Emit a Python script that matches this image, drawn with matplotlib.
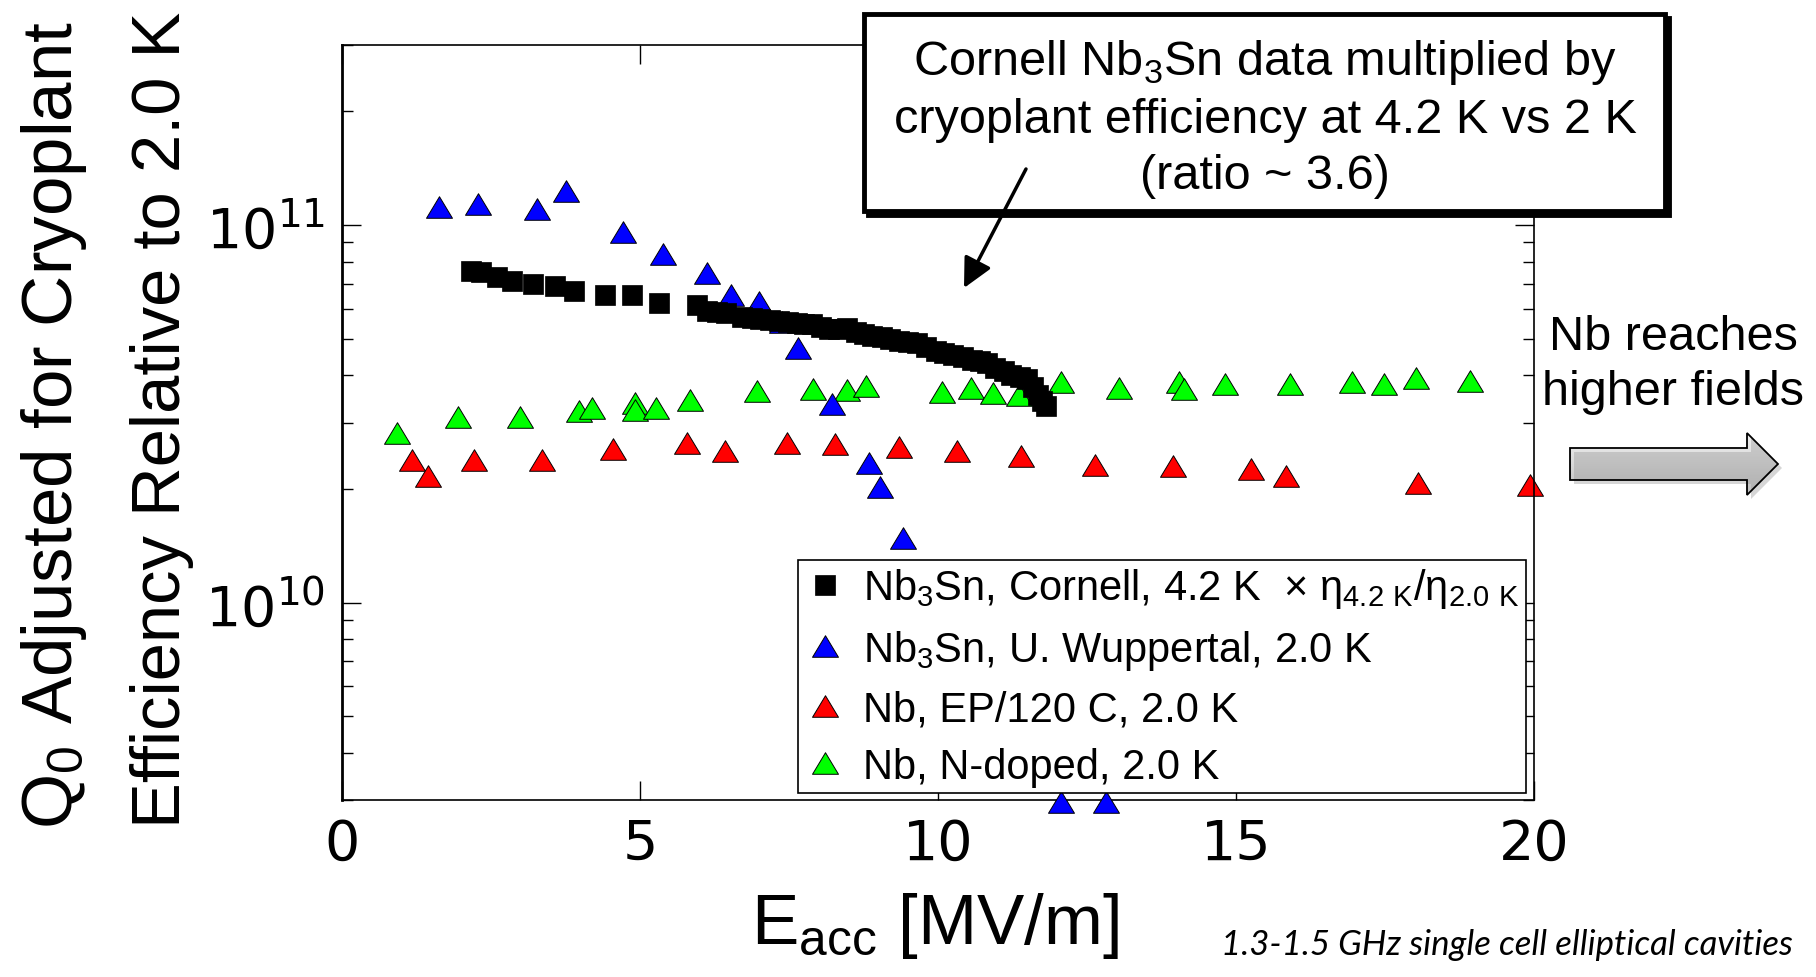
import numpy as np
import matplotlib.pyplot as plt
from matplotlib.path import Path
from matplotlib.patches import Rectangle, Polygon, FancyArrowPatch
from matplotlib.colors import LinearSegmentedColormap
import matplotlib.ticker as mticker

# --- data (E_acc in MV/m, Q0) ---
e_cornell = [2.16, 2.34, 2.60, 2.85, 3.21, 3.58, 3.90, 4.42, 4.86, 5.32, 5.95, 6.12,
             6.30, 6.45, 6.71, 6.88, 7.02, 7.18, 7.33, 7.48, 7.63, 7.76, 7.89, 8.03,
             8.17, 8.32, 8.47, 8.62, 8.75, 8.90, 9.06, 9.20, 9.34, 9.50, 9.65, 9.80,
             9.96, 10.10, 10.26, 10.42, 10.57, 10.70, 10.82, 10.96, 11.10, 11.23,
             11.38, 11.50, 11.60, 11.68, 11.75, 11.82]
q_cornell = [7.57, 7.52, 7.28, 7.13, 7.00, 6.88, 6.68, 6.51, 6.51, 6.22, 6.16, 5.94,
             5.90, 5.86, 5.72, 5.66, 5.63, 5.60, 5.58, 5.55, 5.52, 5.48, 5.46, 5.38,
             5.30, 5.32, 5.35, 5.22, 5.14, 5.09, 5.04, 4.98, 4.93, 4.90, 4.88, 4.75,
             4.63, 4.58, 4.54, 4.47, 4.40, 4.36, 4.32, 4.19, 4.10, 4.02,
             3.96, 3.90, 3.72, 3.55, 3.42, 3.31]

e_wupp = [1.63, 2.29, 3.27, 3.75, 4.71, 5.39, 6.13, 6.52, 6.99, 7.38, 7.65, 8.22,
          8.85, 9.02, 9.41, 12.06, 12.82]
q_wupp = [11.2, 11.4, 11.0, 12.3, 9.6, 8.4, 7.47, 6.51, 6.25, 5.53, 4.72, 3.36,
          2.34, 2.03, 1.48, 0.296, 0.296]

e_ep = [1.17, 1.45, 2.21, 3.36, 4.54, 5.79, 6.43, 7.46, 8.27, 9.35, 10.32, 11.40,
        12.63, 13.95, 15.25, 15.84, 18.05, 19.93]
q_ep = [2.39, 2.16, 2.39, 2.39, 2.55, 2.64, 2.52, 2.64, 2.63, 2.58, 2.52, 2.45,
        2.32, 2.30, 2.26, 2.16, 2.08, 2.05]

e_ndop = [0.93, 1.94, 2.99, 3.98, 4.20, 4.91, 4.91, 5.27, 5.84, 6.97, 7.90, 8.48,
          8.80, 10.06, 10.55, 10.93, 11.36, 12.07, 13.03, 14.05, 14.12, 14.81,
          15.91, 16.94, 17.48, 18.02, 18.93]
q_ndop = [2.81, 3.10, 3.10, 3.22, 3.27, 3.37, 3.24, 3.27, 3.44, 3.64, 3.67, 3.66,
          3.75, 3.62, 3.70, 3.60, 3.55, 3.85, 3.71, 3.85, 3.67, 3.80,
          3.80, 3.85, 3.80, 3.94, 3.87]

scale = 1e10

labels = ["Nb$_\\mathregular{3}$Sn, Cornell, 4.2 K  \u00d7 \u03b7$_\\mathregular{4.2\\ K}$/\u03b7$_\\mathregular{2.0\\ K}$",
          "Nb$_\\mathregular{3}$Sn, U. Wuppertal, 2.0 K",
          "Nb, EP/120 C, 2.0 K",
          "Nb, N-doped, 2.0 K"]

narrow = ['Liberation Sans Narrow', 'Liberation Sans', 'DejaVu Sans']
plt.rcParams['font.family'] = narrow

W, H = 1816, 978
fig = plt.figure(figsize=(W / 100, H / 100), dpi=100)
ax = fig.add_axes([342 / W, 1 - 801 / H, (1534 - 342) / W, (801 - 46) / H])

tri = Path([(0, 0.83), (-1, -0.83), (1, -0.83), (0, 0.83)],
           [Path.MOVETO, Path.LINETO, Path.LINETO, Path.CLOSEPOLY])

h_nd, = ax.plot(e_ndop, np.array(q_ndop) * scale, ls='none', marker=tri, ms=18.7,
                mfc='#00ff00', mec='k', mew=0.7, clip_on=False, zorder=2)
h_ep, = ax.plot(e_ep, np.array(q_ep) * scale, ls='none', marker=tri, ms=18.7,
                mfc='#ff0000', mec='k', mew=0.7, clip_on=False, zorder=2)
h_wu, = ax.plot(e_wupp, np.array(q_wupp) * scale, ls='none', marker=tri, ms=18.7,
                mfc='#0000ff', mec='k', mew=0.7, clip_on=False, zorder=3)
h_co, = ax.plot(e_cornell, np.array(q_cornell) * scale, ls='none', marker='s', ms=15,
                mfc='k', mec='k', mew=0.5, clip_on=False, zorder=4)

ax.set_yscale('log')
ax.set_xlim(0, 20)
ax.set_ylim(3e9, 3e11)
ax.xaxis.set_major_locator(mticker.MultipleLocator(5))
ax.yaxis.set_minor_formatter(mticker.NullFormatter())
ax.tick_params(which='both', direction='in', top=True, right=True,
               labelfontfamily='DejaVu Sans')
ax.tick_params(which='major', length=14, width=1)
ax.tick_params(which='minor', length=8, width=1)
ax.tick_params(axis='x', labelsize=40, pad=12)
ax.tick_params(axis='y', labelsize=40, pad=12)
for s in ax.spines.values():
    s.set_linewidth(1.2)
ax.spines['left'].set_linewidth(2)

leg = ax.legend([h_co, h_wu, h_ep, h_nd], labels, loc='lower right',
                bbox_to_anchor=(0.993, 0.009), borderaxespad=0, fancybox=False,
                edgecolor='k', framealpha=1, fontsize=30, handlelength=1.0,
                handletextpad=0.4, borderpad=0.15, labelspacing=0.42, numpoints=1)
leg.get_frame().set_linewidth(1.2)

# axis labels placed as figure text
fig.text(72 / W, 1 - 425 / H, "Q$_\\mathregular{0}$ Adjusted for Cryoplant", rotation=90,
         rotation_mode='anchor', ha='center', va='baseline', fontsize=51)
fig.text(180 / W, 1 - 420 / H, "Efficiency Relative to 2.0 K", rotation=90,
         rotation_mode='anchor', ha='center', va='baseline', fontsize=49.5)
fig.text(935 / W, 1 - 944 / H, "E$_\\mathregular{acc}$ [MV/m]", ha='center',
         va='baseline', fontsize=51)

# annotation box
fig.add_artist(Rectangle((868 / W, 1 - 216 / H), (1665 - 864) / W, (212 - 15) / H,
                         transform=fig.transFigure, facecolor='k', edgecolor='k', lw=3.5))
fig.add_artist(Rectangle((864 / W, 1 - 212 / H), (1665 - 864) / W, (212 - 15) / H,
                         transform=fig.transFigure, facecolor='white', edgecolor='k', lw=3.5))
box_lines = ["Cornell Nb$_\\mathregular{3}$Sn data multiplied by",
             "cryoplant efficiency at 4.2 K vs 2 K",
             "(ratio ~ 3.6)"]
for txt, yb in zip(box_lines, [75, 133, 189]):
    fig.text(1265 / W, 1 - yb / H, txt, ha='center', va='baseline', fontsize=35)
fig.add_artist(FancyArrowPatch((1026 / W, 1 - 170 / H), (964 / W, 1 - 289 / H),
                               transform=fig.transFigure, color='k', lw=2.5,
                               arrowstyle='-|>,head_length=0.9,head_width=0.45',
                               mutation_scale=20, shrinkA=0, shrinkB=0, zorder=3))

# right-hand note with block arrow
fig.text(1673 / W, 1 - 350 / H, "Nb reaches", ha='center', va='baseline',
         fontsize=35, family='Liberation Sans')
fig.text(1673 / W, 1 - 405 / H, "higher fields", ha='center', va='baseline',
         fontsize=35, family='Liberation Sans')

ax_arr = fig.add_axes([1560 / W, 1 - 505 / H, 230 / W, 80 / H])
ax_arr.axis('off')
verts = [(1570, 449), (1747, 449), (1747, 434), (1778, 465), (1747, 496),
         (1747, 481), (1570, 481)]
ax_arr.add_patch(Polygon([(x + 4, H - y - 4) for x, y in verts], closed=True,
                         facecolor='#999999', edgecolor='none', alpha=0.4))
body = Polygon([(x, H - y) for x, y in verts], closed=True, facecolor='none',
               edgecolor='k', lw=1.3)
ax_arr.add_patch(body)
grad_cmap = LinearSegmentedColormap.from_list('g', ['#f5f5f5', '#bcbcbc'])
im = ax_arr.imshow(np.linspace(0, 1, 64).reshape(-1, 1), cmap=grad_cmap, aspect='auto',
                   extent=[1565, 1785, H - 500, H - 430], origin='upper', zorder=0)
im.set_clip_path(body)
ax_arr.set_xlim(1560, 1790)
ax_arr.set_ylim(H - 505, H - 425)

fig.text(1793 / W, 1 - 955 / H, "1.3-1.5 GHz single cell elliptical cavities",
         ha='right', va='baseline', fontsize=25, style='italic', family='Lato')

fig.savefig('out.png', dpi=100)
